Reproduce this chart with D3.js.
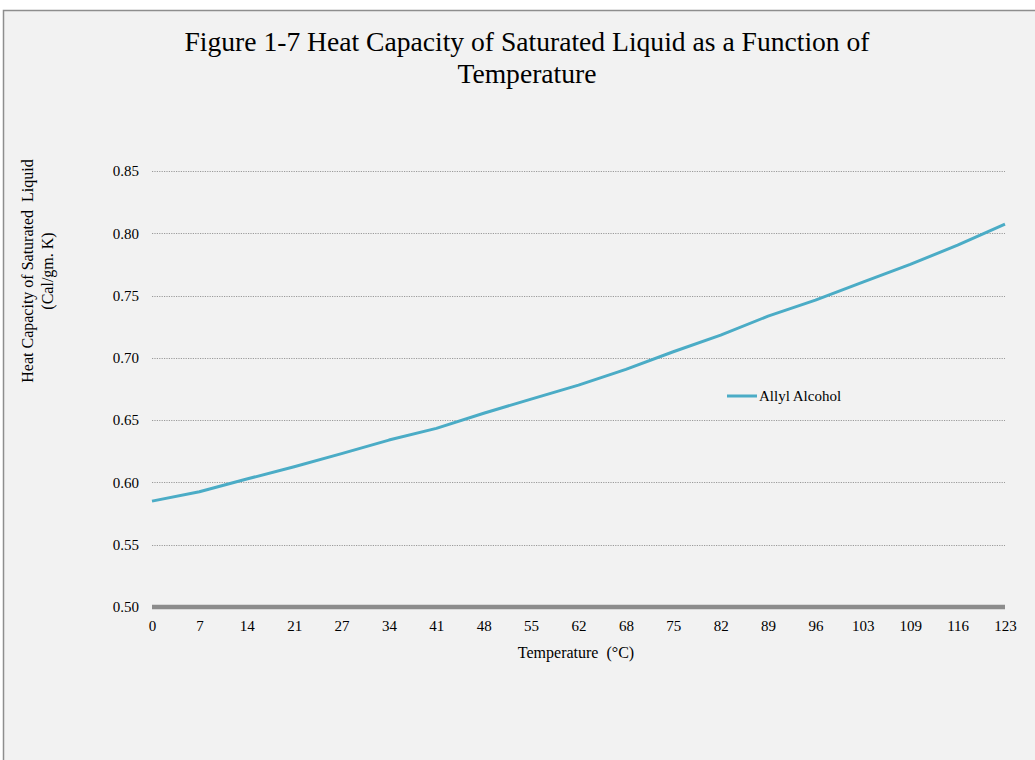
<!DOCTYPE html>
<html>
<head>
<meta charset="utf-8">
<script src="https://cdn.jsdelivr.net/npm/d3@7/dist/d3.min.js"></script>
<style>
html,body{margin:0;padding:0;background:#fff;}
svg{display:block;}
text{font-family:"Liberation Serif","Times New Roman",serif;fill:#000;}
</style>
</head>
<body>
<svg id="chart" width="1035" height="760"></svg>
<script>
const categories = ["0","7","14","21","27","34","41","48","55","62","68","75","82","89","96","103","109","116","123"];
const allylAlcohol = [0.585,0.5925,0.6027,0.6126,0.6231,0.634,0.6434,0.6555,0.6669,0.6781,0.6907,0.7049,0.7183,0.7335,0.7464,0.7608,0.775,0.7905,0.8074];
const yTicks = [0.50,0.55,0.60,0.65,0.70,0.75,0.80,0.85];
const seriesName = "Allyl Alcohol";
const titleLines = ["Figure 1-7 Heat Capacity of Saturated Liquid as a Function of","Temperature"];
const yTitleLines = ["Heat Capacity of Saturated\u00a0 Liquid","(Cal/gm. K)"];
const xTitle = "Temperature\u00a0 (°C)";

const svg = d3.select("#chart");
// frame
svg.append("rect").attr("x",3.5).attr("y",10.5).attr("width",1040).attr("height",760)
  .attr("fill","#f2f2f2").attr("stroke","#8e8e8e").attr("stroke-width",1.5);

const x = d3.scalePoint().domain(categories).range([152,1005]);
const y = d3.scaleLinear().domain([0.5,0.85]).range([607,171]);

// gridlines
svg.append("g").selectAll("line").data(yTicks.filter(d=>d>0.5)).join("line")
  .attr("x1",152).attr("x2",1005)
  .attr("y1",d=>Math.round(y(d))+0.5).attr("y2",d=>Math.round(y(d))+0.5)
  .attr("stroke","#9a9a9a").attr("stroke-width",1).attr("stroke-dasharray","1.2,1.2");

// y axis labels
const yAxis = d3.axisLeft(y).tickValues(yTicks).tickFormat(d3.format(".2f")).tickSize(0).tickPadding(13);
const gy = svg.append("g").attr("transform","translate(152,0)").call(yAxis);
gy.select(".domain").remove();
gy.selectAll("text").style("font-family","Liberation Serif, serif").style("font-size","15px").attr("fill","#000");

// x axis
const xAxis = d3.axisBottom(x).tickSize(0).tickPadding(13);
const gx = svg.append("g").attr("transform","translate(0,607)").call(xAxis);
gx.select(".domain").remove();
gx.selectAll("text").style("font-family","Liberation Serif, serif").style("font-size","15px").attr("fill","#000");
svg.append("line").attr("x1",152).attr("x2",1005).attr("y1",y(0.5)).attr("y2",y(0.5))
  .attr("stroke","#8c8c8c").attr("stroke-width",4.5);

// line
const line = d3.line().x((d,i)=>x(categories[i])).y(d=>y(d));
svg.append("path").datum(allylAlcohol).attr("d",line)
  .attr("fill","none").attr("stroke","#4bacc6").attr("stroke-width",3).attr("stroke-linejoin","round");

// legend
svg.append("line").attr("x1",727).attr("x2",757).attr("y1",396).attr("y2",396)
  .attr("stroke","#4bacc6").attr("stroke-width",3);
svg.append("text").attr("x",759).attr("y",401).style("font-size","15px").text(seriesName);

// title
svg.append("g").selectAll("text").data(titleLines).join("text")
  .attr("x",527).attr("y",(d,i)=>51+i*32).attr("text-anchor","middle")
  .style("font-size","27.6px").text(d=>d);

// y title
svg.append("g").selectAll("text").data(yTitleLines).join("text")
  .attr("transform",(d,i)=>`translate(${33+i*20},271) rotate(-90)`).attr("text-anchor","middle")
  .style("font-size","16px").text(d=>d);

// x title
svg.append("text").attr("x",576).attr("y",658).attr("text-anchor","middle")
  .style("font-size","16px").text(xTitle);
</script>
</body>
</html>
